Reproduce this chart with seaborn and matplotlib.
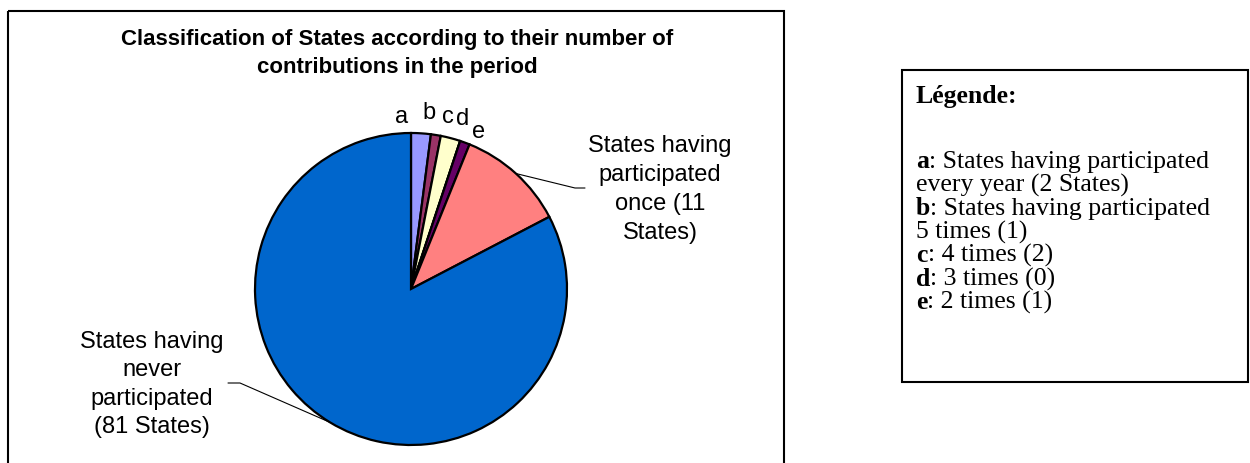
import matplotlib
matplotlib.use("Agg")
import matplotlib.pyplot as plt
import numpy as np
import seaborn as sns
from matplotlib.patches import Rectangle

# Number of States per participation class
letters = ["a", "b", "c", "d", "e"]
small_counts = [2, 1, 2, 0, 1]
once_count = 11
never_count = 81
counts = small_counts + [once_count, never_count]
colors = ["#9999FF", "#993366", "#FFFFCC", "#CCFFFF", "#660066", "#FF8080", "#0066CC"]

title_lines = ["Classification of States according to their number of",
               "contributions in the period"]
once_lines = ["States having", "participated", "once (11", "States)"]
never_lines = ["States having", "never", "participated", "(81 States)"]
legend_title = "Légende:"
legend_items = [
    ("a", [": States having participated", "every year (2 States)"]),
    ("b", [": States having participated", "5 times (1)"]),
    ("c", [": 4 times (2)"]),
    ("d", [": 3 times (0)"]),
    ("e", [": 2 times (1)"]),
]

sns.set_theme(style="white")
plt.rcParams["font.family"] = ["Liberation Sans", "DejaVu Sans"]
plt.rcParams["text.color"] = "black"

W, H = 1250, 463
fig = plt.figure(figsize=(W / 100, H / 100), dpi=100)
ax = fig.add_axes([0, 0, 1, 1])
ax.set_xlim(0, W)
ax.set_ylim(H, 0)
ax.axis("off")

# pie in its own equal-aspect axes, clockwise from 12 o'clock
cx, cy, R = 411, 289, 156
pax = fig.add_axes([(cx - R) / W, (H - cy - R) / H, 2 * R / W, 2 * R / H])
wedges, _ = pax.pie(counts, colors=colors, startangle=90, counterclock=False,
                    wedgeprops=dict(edgecolor="black", linewidth=1.6))
pax.set_xlim(-1.0, 1.0)
pax.set_ylim(-1.0, 1.0)
pax.set_aspect("equal")
pax.axis("off")

def edge_point(i):
    w = wedges[i]
    mid = np.deg2rad((w.theta1 + w.theta2) / 2)
    return cx + R * np.cos(mid), cy - R * np.sin(mid)

def stacked(lines, x, y0, step, **kw):
    for k, s in enumerate(lines):
        ax.text(x, y0 + k * step, s, va="baseline", **kw)

# chart frame and legend frame
ax.add_patch(Rectangle((8, 11), 776, 470, fill=False, edgecolor="black", lw=1.5))
ax.add_patch(Rectangle((902, 70), 346, 312, fill=False, edgecolor="black", lw=1.5))

stacked(title_lines, 397, 45, 28, ha="center", fontsize=16, fontweight="bold")

# small slice letters
letter_pos = [(402, 117), (429, 113), (448, 117), (463, 119), (479, 132)]
for lt, (x, y) in zip(letters, letter_pos):
    ax.text(x, y, lt, ha="center", va="center", fontsize=17)

# large slice labels with leader lines
stacked(once_lines, 660, 152, 29, ha="center", fontsize=17)
ex, ey = edge_point(5)
ax.plot([ex, 575, 585], [ey, 188, 188], color="black", lw=0.8)

stacked(never_lines, 152, 348, 28.5, ha="center", fontsize=17)
ex, ey = edge_point(6)
ax.plot([228, 240, ex], [383, 383, ey], color="black", lw=0.8)

# legend text in serif, bold key letter followed by regular description
serif = ["Liberation Serif", "DejaVu Serif"]
lfs = 18.5
ax.text(916, 103, legend_title, ha="left", va="baseline", fontsize=lfs,
        fontweight="bold", family=serif)
fig.canvas.draw()
renderer = fig.canvas.get_renderer()
inv = ax.transData.inverted()
y = 168
step = 23.5
for lt, rest in legend_items:
    t = ax.text(916, y, lt, ha="left", va="baseline", fontsize=lfs,
                fontweight="bold", family=serif)
    bb = t.get_window_extent(renderer)
    x_end = inv.transform((bb.x1, bb.y0))[0]
    ax.text(x_end, y, rest[0], ha="left", va="baseline", fontsize=lfs, family=serif)
    y += step
    for extra in rest[1:]:
        ax.text(916, y, extra, ha="left", va="baseline", fontsize=lfs, family=serif)
        y += step

fig.savefig("out.png", dpi=100)
